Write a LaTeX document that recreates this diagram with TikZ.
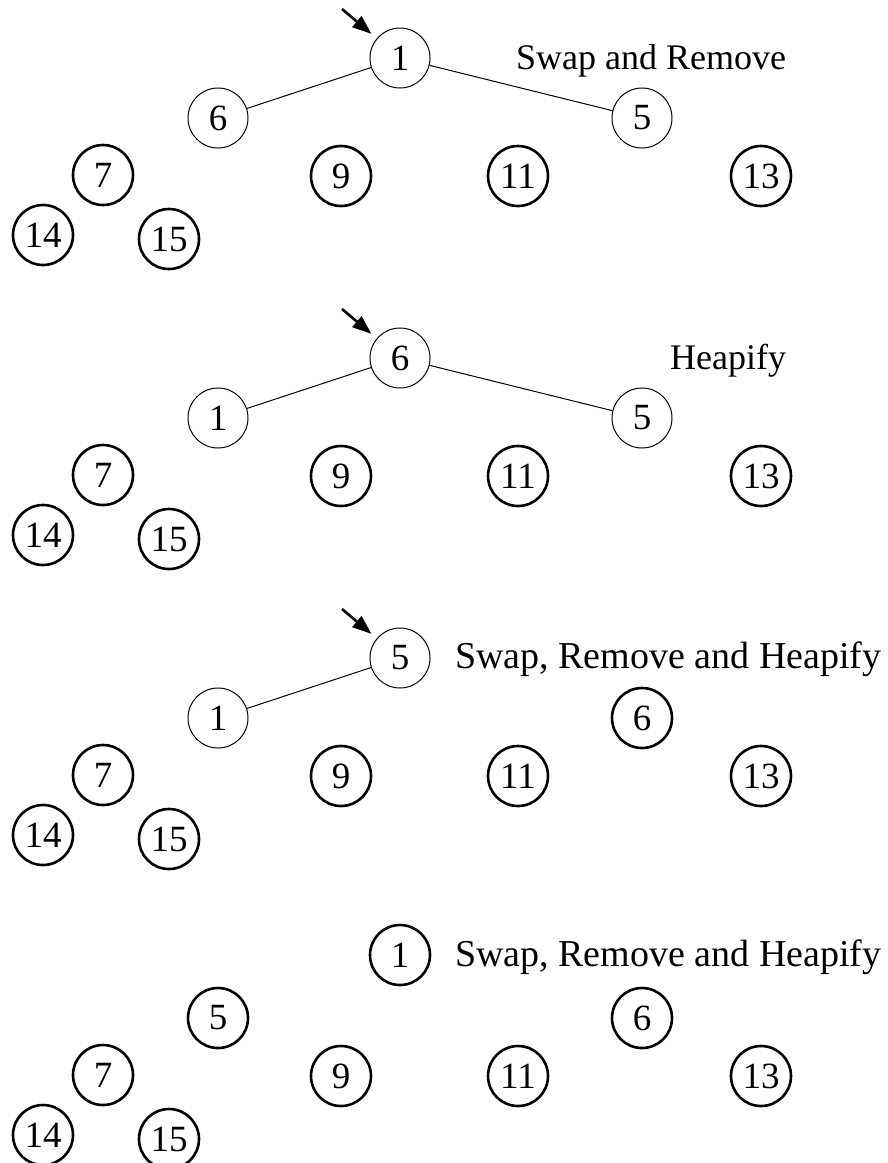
\documentclass[tikz,border=0pt]{standalone}
\usepackage{fontspec}
\setmainfont{Liberation Serif}
\usetikzlibrary{arrows.meta}
\tikzset{
  hn/.style={circle,draw,minimum size=60pt,inner sep=0pt,font=\fontsize{37}{40}\selectfont},
  thin/.style={hn,line width=1pt},
  thk/.style={hn,line width=2.6pt},
  edge/.style={line width=1pt},
  arr/.style={line width=2.6pt,-{Triangle[length=19pt,width=14pt]},shorten >=7pt},
  lbl/.style={anchor=base west,inner sep=0pt,font=\fontsize{36}{40}\selectfont},
  lbll/.style={anchor=base west,inner sep=0pt,font=\fontsize{38}{42}\selectfont}
}
\begin{document}
\begin{tikzpicture}[x=1pt,y=-1pt]
\useasboundingbox (0,0) rectangle (888,1163);
% Panel 1
\node[thin] (a1) at (400,58) {1};
\node[thin] (a6) at (218,118) {6};
\node[thin] (a5) at (642,118) {5};
\node[thk] (a9) at (341,176) {9};
\node[thk] (a7) at (103,175) {7};
\node[thk] (a11) at (518,176) {11};
\node[thk] (a13) at (761,176) {13};
\node[thk] (a14) at (43,235) {14};
\node[thk] (a15) at (169,239) {15};
\draw[edge] (a1) -- (a6);
\draw[edge] (a1) -- (a5);
\coordinate (ta) at (342,9);
\draw[arr] (ta) -- (a1);
\node[lbl] at (516,69) {Swap and Remove};
% Panel 2
\node[thin] (b6) at (400,358) {6};
\node[thin] (b1) at (218,418) {1};
\node[thin] (b5) at (642,418) {5};
\node[thk] (b9) at (341,476) {9};
\node[thk] (b7) at (103,475) {7};
\node[thk] (b11) at (518,476) {11};
\node[thk] (b13) at (761,476) {13};
\node[thk] (b14) at (43,535) {14};
\node[thk] (b15) at (169,539) {15};
\draw[edge] (b6) -- (b1);
\draw[edge] (b6) -- (b5);
\coordinate (tb) at (342,309);
\draw[arr] (tb) -- (b6);
\node[lbl] at (670,369) {Heapify};
% Panel 3
\node[thin] (c5) at (400,658) {5};
\node[thin] (c1) at (218,718) {1};
\node[thk] (c6) at (642,718) {6};
\node[thk] (c9) at (341,776) {9};
\node[thk] (c7) at (103,775) {7};
\node[thk] (c11) at (518,776) {11};
\node[thk] (c13) at (761,776) {13};
\node[thk] (c14) at (43,835) {14};
\node[thk] (c15) at (169,839) {15};
\draw[edge] (c5) -- (c1);
\coordinate (tc) at (342,609);
\draw[arr] (tc) -- (c5);
\node[lbll] at (455,668) {Swap, Remove and Heapify};
% Panel 4
\node[thk] (d1) at (400,955) {1};
\node[thk] (d5) at (218,1018) {5};
\node[thk] (d6) at (642,1018) {6};
\node[thk] (d9) at (341,1076) {9};
\node[thk] (d7) at (103,1075) {7};
\node[thk] (d11) at (518,1076) {11};
\node[thk] (d13) at (761,1076) {13};
\node[thk] (d14) at (43,1135) {14};
\node[thk] (d15) at (169,1139) {15};
\node[lbll] at (455,966) {Swap, Remove and Heapify};
\end{tikzpicture}
\end{document}
